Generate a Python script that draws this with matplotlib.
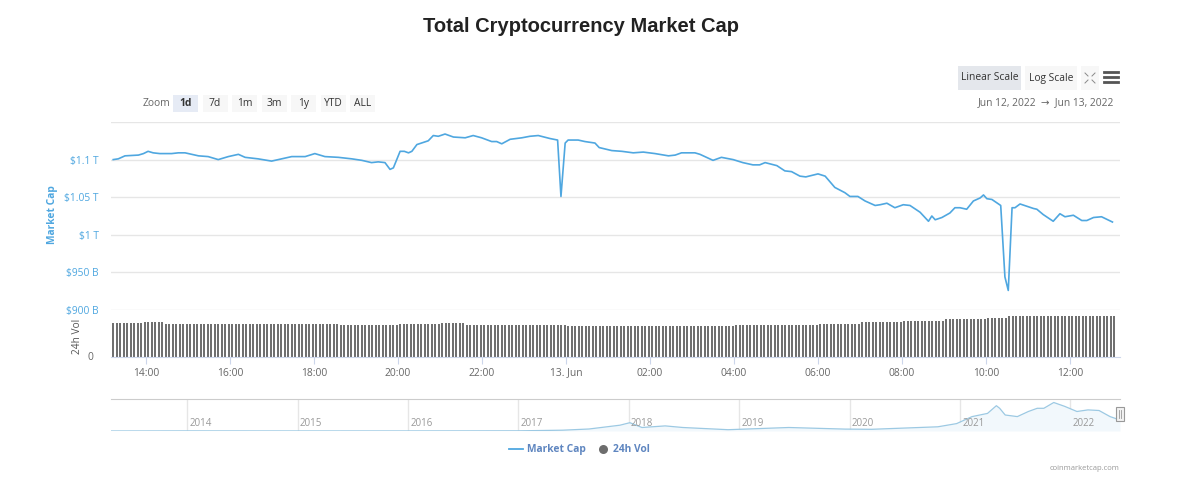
import matplotlib
matplotlib.use('Agg')
import matplotlib.pyplot as plt
import numpy as np
from matplotlib.patches import Rectangle
from matplotlib.lines import Line2D

plt.rcParams['font.family'] = ['Open Sans', 'DejaVu Sans']

# market cap, 12-13 Jun 2022 (hours from 12 Jun 00:00, value in trillion USD)
mc_hours = [13.22, 13.34, 13.50, 13.82, 13.94, 14.05, 14.17, 14.33, 14.61, 14.77, 14.93,
            15.25, 15.48, 15.72, 15.96, 16.20, 16.36, 16.67, 16.99, 17.31, 17.47, 17.79,
            18.02, 18.26, 18.58, 18.90, 19.14, 19.37, 19.53, 19.69, 19.81, 19.89, 19.97,
            20.05, 20.15, 20.25, 20.33, 20.45, 20.56, 20.72, 20.84, 20.96, 21.12, 21.32,
            21.60, 21.79, 21.99, 22.23, 22.35, 22.47, 22.67, 22.95, 23.14, 23.34, 23.62,
            23.80, 23.88, 23.98, 24.05, 24.29, 24.45, 24.69, 24.79, 25.09, 25.33, 25.60,
            25.84, 26.12, 26.44, 26.60, 26.75, 27.07, 27.19, 27.50, 27.70, 27.98, 28.21,
            28.45, 28.61, 28.74, 29.02, 29.21, 29.37, 29.57, 29.71, 30.00, 30.17, 30.40,
            30.64, 30.76, 30.95, 31.12, 31.36, 31.48, 31.64, 31.83, 32.03, 32.19, 32.43,
            32.63, 32.71, 32.79, 32.95, 33.14, 33.26, 33.38, 33.54, 33.70, 33.86, 33.94,
            34.02, 34.14, 34.35, 34.45, 34.53, 34.62, 34.69, 34.81, 35.13, 35.21, 35.36,
            35.60, 35.76, 35.88, 36.08, 36.28, 36.40, 36.56, 36.75, 37.01]
mc_values = [1.100, 1.101, 1.105, 1.106, 1.108, 1.111, 1.109, 1.108, 1.108, 1.109, 1.109,
             1.105, 1.104, 1.100, 1.104, 1.107, 1.103, 1.101, 1.098, 1.102, 1.104, 1.104,
             1.108, 1.104, 1.103, 1.101, 1.099, 1.096, 1.097, 1.096, 1.087, 1.089, 1.100,
             1.111, 1.111, 1.109, 1.111, 1.120, 1.122, 1.125, 1.132, 1.131, 1.134, 1.130,
             1.129, 1.132, 1.129, 1.124, 1.124, 1.121, 1.127, 1.129, 1.131, 1.132, 1.128,
             1.126, 1.051, 1.122, 1.126, 1.126, 1.124, 1.122, 1.116, 1.112, 1.111, 1.109,
             1.110, 1.108, 1.105, 1.106, 1.109, 1.109, 1.107, 1.099, 1.103, 1.100, 1.096,
             1.093, 1.093, 1.096, 1.092, 1.085, 1.084, 1.078, 1.077, 1.081, 1.078, 1.063,
             1.056, 1.051, 1.051, 1.045, 1.039, 1.040, 1.042, 1.036, 1.040, 1.039, 1.030,
             1.018, 1.025, 1.020, 1.023, 1.029, 1.036, 1.036, 1.034, 1.045, 1.049, 1.053,
             1.048, 1.047, 1.039, 0.944, 0.926, 1.036, 1.036, 1.041, 1.035, 1.034, 1.027,
             1.018, 1.028, 1.024, 1.026, 1.019, 1.019, 1.023, 1.024, 1.017]

# 24h volume (billion USD), 5-minute bars read as runs of equal height
vol_start = 13.22
vol_step_min = 5
vol_run_counts = [9, 6, 50, 17, 12, 7, 29, 48, 24, 12, 12, 12, 12, 6, 31]
vol_run_levels = [89, 93, 88, 85, 87, 90, 84, 83, 85, 88, 92, 96, 100, 104, 108]

# navigator: full history (decimal year, trillion USD)
nav_years = [2013.31, 2014.0, 2015.0, 2016.0, 2017.0, 2017.40, 2017.64, 2017.92, 2018.01,
             2018.12, 2018.33, 2018.49, 2018.90, 2019.45, 2019.96, 2020.20, 2020.80,
             2020.97, 2021.11, 2021.25, 2021.33, 2021.36, 2021.41, 2021.52, 2021.62,
             2021.70, 2021.76, 2021.85, 2021.95, 2022.06, 2022.16, 2022.26, 2022.36,
             2022.41, 2022.45]
nav_values = [0.002, 0.010, 0.005, 0.007, 0.018, 0.08, 0.20, 0.58, 0.83,
              0.35, 0.51, 0.35, 0.13, 0.35, 0.19, 0.17, 0.42,
              0.74, 1.44, 1.76, 2.53, 2.27, 1.60, 1.44, 1.95,
              2.27, 2.27, 2.85, 2.46, 1.95, 2.11, 2.05, 1.44,
              1.25, 1.00]

tick_hours = [14, 16, 18, 20, 22, 24, 26, 28, 30, 32, 34, 36]
tick_labels = ['14:00', '16:00', '18:00', '20:00', '22:00', '13. Jun',
               '02:00', '04:00', '06:00', '08:00', '10:00', '12:00']
mc_ticks = [0.90, 0.95, 1.00, 1.05, 1.10, 1.15]
mc_tick_labels = ['$900 B', '$950 B', '$1 T', '$1.05 T', '$1.1 T', '']
zoom_buttons = ['1d', '7d', '1m', '3m', '1y', 'YTD', 'ALL']
nav_year_ticks = [2014, 2015, 2016, 2017, 2018, 2019, 2020, 2021, 2022]

W, H = 1189, 490
BLUE = '#4fa7e0'
GRID = '#e6e6e6'
FS = 7.4


def fx(x):
    return x / W


def fy(y):
    return 1 - y / H


fig = plt.figure(figsize=(W / 100, H / 100), dpi=100)
fig.patch.set_facecolor('white')

fig.text(fx(581), fy(27), 'Total Cryptocurrency Market Cap', ha='center', va='center',
         fontsize=14.5, fontweight='bold', color='#222222', family=['Liberation Sans', 'DejaVu Sans'])

# main market cap panel
xmin, xmax = 13.167, 37.19
ax = fig.add_axes([fx(111), fy(310), fx(1120) - fx(111), fy(122) - fy(310)])
ax.plot(mc_hours, mc_values, color=BLUE, lw=1.2, zorder=3)
ax.set_xlim(xmin, xmax)
ax.set_ylim(0.90, 1.15)
ax.set_yticks(mc_ticks)
ax.set_yticklabels(mc_tick_labels)
ax.tick_params(axis='y', length=0, pad=9, labelsize=FS, labelcolor=BLUE)
ax.set_xticks([])
ax.grid(axis='y', color=GRID, lw=1)
for s in ax.spines.values():
    s.set_visible(False)

# volume panel
vol = np.repeat(vol_run_levels, vol_run_counts)
vol_t = vol_start + np.arange(len(vol)) * vol_step_min / 60
axv = fig.add_axes([fx(111), fy(356.5), fx(1120) - fx(111), fy(312) - fy(356.5)])
axv.bar(vol_t, vol, width=vol_step_min / 60 * 0.55, color='#707070', align='center')
axv.set_xlim(xmin, xmax)
axv.set_ylim(0, 120)
axv.set_yticks([0])
axv.set_yticklabels(['0'])
axv.tick_params(axis='y', length=0, pad=13, labelsize=FS, labelcolor='#666666')
axv.set_xticks(tick_hours)
axv.set_xticklabels(tick_labels)
axv.tick_params(axis='x', length=5, color='#ccd6eb', pad=3, labelsize=FS, labelcolor='#666666')
for k in ['top', 'left', 'right']:
    axv.spines[k].set_visible(False)
axv.spines['bottom'].set_color('#ccd6eb')

fig.text(fx(52), fy(215), 'Market Cap', rotation=90, ha='center', va='center',
         fontsize=7.4, fontweight='bold', color=BLUE)
fig.text(fx(78), fy(336), '24h Vol', rotation=90, ha='center', va='center',
         fontsize=7.3, color='#555555')

# navigator
axn = fig.add_axes([fx(111), fy(431), fx(1120) - fx(111), fy(399) - fy(431)])
axn.plot(nav_years, nav_values, color='#9cc9e3', lw=0.9)
axn.fill_between(nav_years, nav_values, color='#f2f8fc', lw=0)
axn.set_xlim(2013.31, 2022.45)
axn.set_ylim(0, 3.2)
axn.set_yticks([])
axn.set_xticks([])
for yr in nav_year_ticks:
    axn.axvline(yr, color=GRID, lw=1, zorder=0)
    axn.text(yr + 0.02, 0.22, str(yr), transform=axn.get_xaxis_transform(),
             fontsize=7, color='#999999', ha='left', va='center')
for k in ['bottom', 'left', 'right']:
    axn.spines[k].set_visible(False)
axn.spines['top'].set_color('#cccccc')
fig.add_artist(Rectangle((fx(1116), fy(421)), fx(8), fy(407) - fy(421), transform=fig.transFigure,
                         facecolor='#f2f2f2', edgecolor='#999999', lw=0.8))
for xx in (1119, 1121):
    fig.add_artist(Line2D([fx(xx), fx(xx)], [fy(410), fy(418)], color='#999999', lw=0.6))

# range selector
fig.text(fx(143), fy(103), 'Zoom', fontsize=FS, color='#666666', va='center')
bx = 173
for i, lab in enumerate(zoom_buttons):
    x0 = bx + i * 29.5
    fig.add_artist(Rectangle((fx(x0), fy(112)), fx(25), fy(95) - fy(112), transform=fig.transFigure,
                             facecolor='#e6ebf5' if i == 0 else '#f7f7f7', edgecolor='none'))
    fig.text(fx(x0 + 12.5), fy(103.5), lab, ha='center', va='center', fontsize=FS,
             color='#333333', fontweight='bold' if i == 0 else 'normal')

# scale buttons and icons
fig.add_artist(Rectangle((fx(958), fy(90)), fx(63), fy(66) - fy(90), transform=fig.transFigure,
                         facecolor='#e4e7ec', edgecolor='none'))
fig.text(fx(989.5), fy(78), 'Linear Scale', ha='center', va='center', fontsize=FS, color='#333333')
fig.add_artist(Rectangle((fx(1025), fy(90)), fx(52), fy(66) - fy(90), transform=fig.transFigure,
                         facecolor='#f7f7f7', edgecolor='none'))
fig.text(fx(1051), fy(78), 'Log Scale', ha='center', va='center', fontsize=FS, color='#333333')
fig.add_artist(Rectangle((fx(1081), fy(90)), fx(18), fy(66) - fy(90), transform=fig.transFigure,
                         facecolor='#f7f7f7', edgecolor='none'))
for (cx, cy, dx, dy) in [(1085, 73, 1, 1), (1095, 73, -1, 1), (1085, 83, 1, -1), (1095, 83, -1, -1)]:
    fig.add_artist(Line2D([fx(cx), fx(cx + 3 * dx)], [fy(cy), fy(cy + 3 * dy)], color='#888888', lw=0.7))
for yy in (72, 77, 82):
    fig.add_artist(Line2D([fx(1104), fx(1118)], [fy(yy), fy(yy)], color='#555555', lw=2.0))
fig.text(fx(1114), fy(103), 'Jun 12, 2022  \u2192  Jun 13, 2022', ha='right', va='center',
         fontsize=FS, color='#666666')

# legend
fig.add_artist(Line2D([fx(509), fx(523)], [fy(449), fy(449)], color=BLUE, lw=1.3))
fig.text(fx(527), fy(449), 'Market Cap', ha='left', va='center', fontsize=FS,
         fontweight='bold', color='#5f86c0')
fig.add_artist(Line2D([fx(603)], [fy(449)], marker='o', markersize=6.5, color='#6d6d6d',
                      markeredgewidth=0))
fig.text(fx(613), fy(449), '24h Vol', ha='left', va='center', fontsize=FS,
         fontweight='bold', color='#5f86c0')

fig.text(fx(1120), fy(468), 'coinmarketcap.com', ha='right', va='center',
         fontsize=5.5, color='#999999')

fig.savefig('out.png', dpi=100)
